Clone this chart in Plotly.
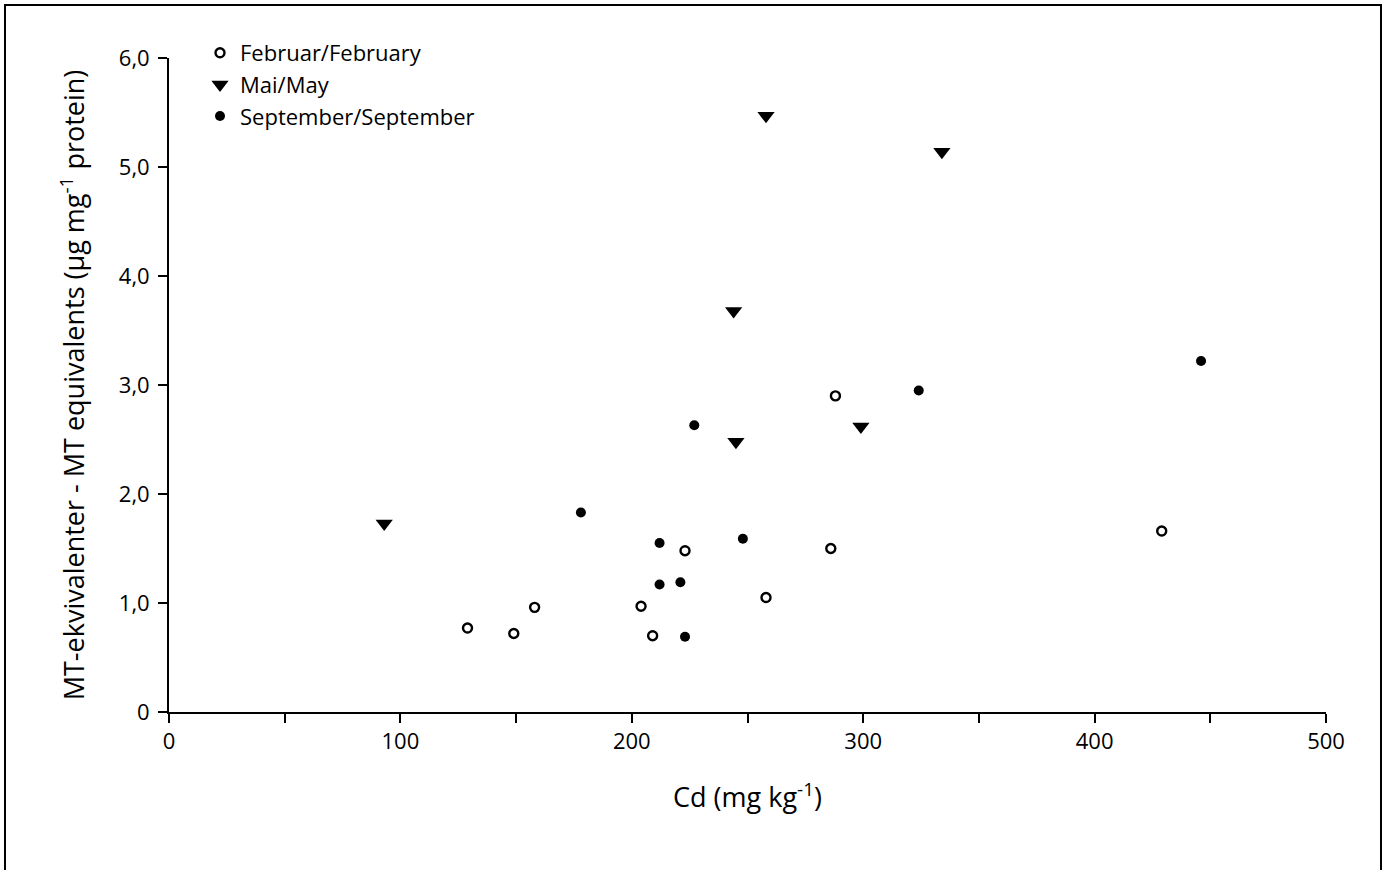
import plotly.graph_objects as go

# ---- data ----
feb_x = [129, 149, 158, 204, 209, 223, 258, 286, 288, 429]
feb_y = [0.77, 0.72, 0.96, 0.97, 0.70, 1.48, 1.05, 1.50, 2.90, 1.66]

may_x = [93, 244, 245, 258, 299, 334]
may_y = [1.73, 3.68, 2.48, 5.47, 2.62, 5.14]

sep_x = [178, 212, 212, 221, 223, 227, 248, 324, 446]
sep_y = [1.83, 1.55, 1.17, 1.19, 0.69, 2.63, 1.59, 2.95, 3.22]

x_tickvals = [0, 100, 200, 300, 400, 500]
x_ticktext = ["0", "100", "200", "300", "400", "500"]
y_tickvals = [0, 1, 2, 3, 4, 5, 6]
y_ticktext = ["0", "1,0", "2,0", "3,0", "4,0", "5,0", "6,0"]

series_names = ["Februar/February", "Mai/May", "September/September"]

FONT = "Open Sans"
W, H = 1384, 870
ML, MR, MT, MB = 169, 58, 58, 158

fig = go.Figure()
fig.add_trace(go.Scatter(
    x=feb_x, y=feb_y, mode="markers", name=series_names[0],
    marker=dict(symbol="circle-open", size=9, color="black", line=dict(width=2.4, color="black")),
))
fig.add_trace(go.Scatter(
    x=may_x, y=may_y, mode="markers", name=series_names[1],
    marker=dict(symbol="triangle-down", size=15, color="black"),
))
fig.add_trace(go.Scatter(
    x=sep_x, y=sep_y, mode="markers", name=series_names[2],
    marker=dict(symbol="circle", size=10, color="black"),
))

pw = W - ML - MR
ph = H - MT - MB
fig.add_shape(
    type="rect", xref="paper", yref="paper",
    x0=(5 - ML) / pw, x1=(W - 3 - ML) / pw,
    y0=(H - MB - (H + 10)) / ph, y1=(H - MB - 5) / ph,
    line=dict(color="black", width=2), fillcolor="rgba(0,0,0,0)", layer="below",
)

fig.update_layout(
    width=W, height=H,
    margin=dict(l=ML, r=MR, t=MT, b=MB),
    paper_bgcolor="white", plot_bgcolor="white",
    font=dict(family=FONT, color="black", size=22),
    showlegend=True,
    legend=dict(
        x=(200 - ML) / pw, y=(H - MB - 32) / ph, xanchor="left", yanchor="top",
        bgcolor="rgba(0,0,0,0)", font=dict(size=22, family=FONT),
        itemwidth=30, tracegroupgap=0,
    ),
    xaxis=dict(
        range=[0, 500], showgrid=False, zeroline=False,
        showline=True, linecolor="black", linewidth=1.8,
        ticks="outside", ticklen=9, tickwidth=1.5, tickcolor="black",
        tickvals=x_tickvals, ticktext=x_ticktext,
        minor=dict(dtick=50, ticks="outside", ticklen=9, tickwidth=1.5, tickcolor="black", showgrid=False),
        tickfont=dict(size=22, family=FONT),
        title=dict(text="Cd (mg kg<sup>-1</sup>)", font=dict(size=27, family=FONT), standoff=34),
    ),
    yaxis=dict(
        range=[0, 6], showgrid=False, zeroline=False,
        showline=True, linecolor="black", linewidth=1.8,
        ticks="outside", ticklen=9, tickwidth=1.5, tickcolor="black",
        tickvals=y_tickvals, ticktext=y_ticktext,
        tickfont=dict(size=22, family=FONT), ticklabelstandoff=4,
        title=dict(text="MT-ekvivalenter - MT equivalents (µg mg<sup>-1</sup> protein)",
                   font=dict(size=27, family=FONT), standoff=26),
    ),
)

fig.write_html("out.html")
